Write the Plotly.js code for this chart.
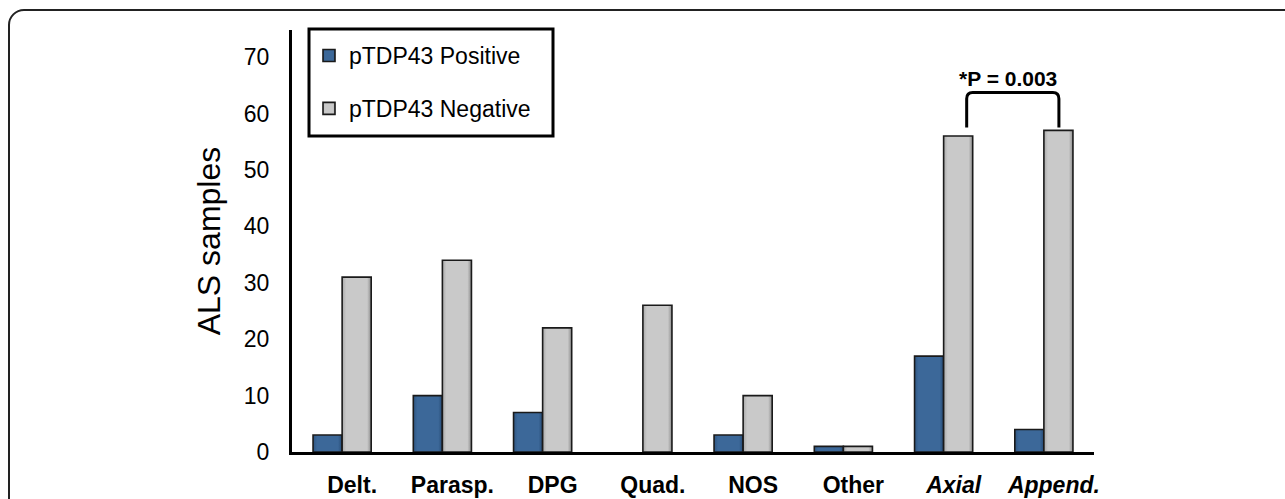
<!DOCTYPE html>
<html>
<head>
<meta charset="utf-8">
<script src="https://cdn.plot.ly/plotly-3.0.1.min.js"></script>
<style>
  html, body { margin: 0; padding: 0; background: #fff; overflow: hidden; }
  #wrap { position: relative; width: 1285px; height: 499px; overflow: hidden; }
  #frame { position: absolute; left: 8px; top: 9px; width: 1320px; height: 560px;
           border: 2px solid #222; border-radius: 16px; pointer-events: none; z-index: 5; }
  #chart { position: absolute; left: 0; top: 0; width: 1285px; height: 499px; }
</style>
</head>
<body>
<div id="wrap">
  <div id="chart"></div>
  <div id="frame"></div>
</div>
<script>
// ---- data ----
const categories = ['Delt.', 'Parasp.', 'DPG', 'Quad.', 'NOS', 'Other', 'Axial', 'Append.'];
const italicCategories = ['Axial', 'Append.'];
const positiveValues = [3, 10, 7, 0, 3, 1, 17, 4];
const negativeValues = [31, 34, 22, 26, 10, 1, 56, 57];
const seriesNames = ['pTDP43 Positive', 'pTDP43 Negative'];
const yTickValues = [0, 10, 20, 30, 40, 50, 60, 70];
const comparison = { from: 'Axial', to: 'Append.', label: '*P = 0.003' };

// ---- styles ----
const FONT = 'Liberation Sans, Arial, Helvetica, sans-serif';
const BLUE = '#3c6899';
const GRAY = '#c9c9c9';
const OUTLINE = '#1a1a1a';

const ticktext = categories.map(c => italicCategories.includes(c) ? '<i>' + c + '</i>' : c);
const lw = vals => vals.map(v => v > 0 ? 1.6 : 0);

const traces = [
  { type: 'bar', x: categories, y: positiveValues, name: seriesNames[0], legendgroup: 'a',
    marker: { color: BLUE, line: { color: OUTLINE, width: lw(positiveValues) } }, hoverinfo: 'none' },
  { type: 'bar', x: categories, y: negativeValues, name: seriesNames[1], legendgroup: 'b',
    marker: { color: GRAY, line: { color: OUTLINE, width: lw(negativeValues) } }, hoverinfo: 'none' }
];

// bracket between the two compared groups (from data)
const i1 = categories.indexOf(comparison.from);
const i2 = categories.indexOf(comparison.to);
const v1 = negativeValues[i1], v2 = negativeValues[i2];
const x1 = i1 + 0.23, x2 = i2 + 0.15;
const yb = Math.max(v1, v2) + 0.5;
const yt = yb + 6.2;
const rx = 0.06, ry = 1.1;
const bracketPath = `M ${x1},${yb} L ${x1},${yt - ry} Q ${x1},${yt} ${x1 + rx},${yt} ` +
                    `L ${x2 - rx},${yt} Q ${x2},${yt} ${x2},${yt - ry} L ${x2},${yb}`;

// plot area in px (for paper-coordinate legend frame)
const PL = 292, PR = 1094, PT = 30, PB = 452;
const px2x = px => (px - PL) / (PR - PL);
const px2y = py => (PB - py) / (PB - PT);

const layout = {
  width: 1285, height: 499,
  margin: { l: PL, r: 1285 - PR, t: PT, b: 499 - PB, pad: 0 },
  paper_bgcolor: '#fff', plot_bgcolor: '#fff',
  font: { family: FONT, color: '#000', size: 22 },
  barmode: 'group', bargap: 0.42, bargroupgap: 0,
  showlegend: true,
  legend: {
    x: px2x(309), y: px2y(34), xanchor: 'left', yanchor: 'top',
    borderwidth: 0, bgcolor: 'rgba(0,0,0,0)',
    font: { family: FONT, size: 23, color: '#000' },
    traceorder: 'grouped', tracegroupgap: 20, itemclick: false
  },
  xaxis: {
    type: 'category', range: [-0.5, 7.5], fixedrange: true,
    tickvals: categories, ticktext: ticktext,
    tickfont: { family: FONT, size: 23, weight: 'bold', color: '#000' },
    showline: true, linewidth: 3, linecolor: '#000', ticks: '',
    showgrid: false, zeroline: false,
    ticklabelstandoff: 10, ticklabelshift: 10
  },
  yaxis: {
    range: [0, 74.8], fixedrange: true,
    tickvals: yTickValues,
    tickfont: { family: FONT, size: 23, color: '#000' },
    showline: true, linewidth: 3, linecolor: '#000', ticks: '',
    showgrid: false, zeroline: false,
    ticklabelstandoff: 15,
    title: { text: 'ALS samples', font: { family: FONT, size: 32, color: '#000' }, standoff: 14 }
  },
  shapes: [
    { type: 'path', xref: 'x', yref: 'y', path: bracketPath,
      line: { color: '#000', width: 3 } },
    { type: 'rect', xref: 'paper', yref: 'paper',
      x0: px2x(309), x1: px2x(553), y0: px2y(136), y1: px2y(29),
      line: { color: '#000', width: 3 }, fillcolor: 'rgba(0,0,0,0)' }
  ],
  annotations: [
    { xref: 'x', yref: 'y', x: (x1 + x2) / 2 - 0.05, y: yt, yanchor: 'bottom', xanchor: 'center',
      text: '<b>' + comparison.label + '</b>', showarrow: false, yshift: 1,
      font: { family: FONT, size: 21, color: '#000' } }
  ]
};

Plotly.newPlot('chart', traces, layout, { displayModeBar: false, staticPlot: true }).then(gd => {
  // bevel-like horizontal shading on bars
  const svg = gd.querySelector('svg.main-svg');
  const NS = 'http://www.w3.org/2000/svg';
  const defs = document.createElementNS(NS, 'defs');
  function grad(id, stops) {
    const g = document.createElementNS(NS, 'linearGradient');
    g.setAttribute('id', id);
    g.setAttribute('x1', '0'); g.setAttribute('x2', '1'); g.setAttribute('y1', '0'); g.setAttribute('y2', '0');
    stops.forEach(([o, c]) => {
      const s = document.createElementNS(NS, 'stop');
      s.setAttribute('offset', o); s.setAttribute('stop-color', c);
      g.appendChild(s);
    });
    defs.appendChild(g);
  }
  grad('gBlue', [['0', '#2f5682'], ['0.14', BLUE], ['0.86', BLUE], ['1', '#264a73']]);
  grad('gGray', [['0', '#a9a9a9'], ['0.14', GRAY], ['0.86', GRAY], ['1', '#8c8c8c']]);
  svg.insertBefore(defs, svg.firstChild);
  const ids = ['gBlue', 'gGray'];
  gd.querySelectorAll('.barlayer .trace').forEach((t, k) => {
    t.querySelectorAll('path').forEach(p => { p.style.fill = 'url(#' + ids[k] + ')'; });
  });
  gd.querySelectorAll('.legend .traces').forEach((t, k) => {
    t.querySelectorAll('.legendpoints path').forEach(p => { p.style.fill = 'url(#' + ids[k] + ')'; });
  });
});
</script>
</body>
</html>
